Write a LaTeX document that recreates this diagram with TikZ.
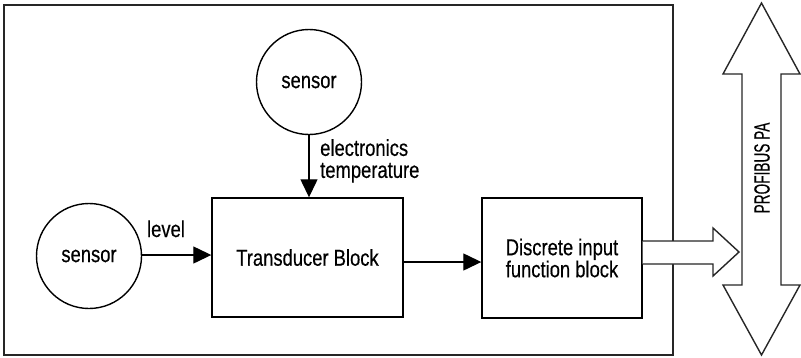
\documentclass[tikz,border=0pt]{standalone}
\usepackage{fontspec}
\setmainfont[FakeStretch=0.8, FakeBold=0.4]{Liberation Sans}
\newfontfamily\busfont[FakeStretch=0.62, FakeBold=0.4]{Liberation Sans}
\usetikzlibrary{arrows.meta}
\begin{document}
\begin{tikzpicture}[x=1pt, y=-1pt, line join=miter,
    every node/.style={font=\fontsize{23}{22}\selectfont},
    sensor/.style={draw, circle, line width=1.4pt, minimum size=105pt, inner sep=0pt},
    block/.style={draw, rectangle, line width=1.4pt, inner sep=0pt, align=center},
    flow/.style={line width=1.3pt, -{Triangle[length=18pt, width=17pt]}},
    outline/.style={draw=black!85, line width=1.4pt, fill=white}]
    \useasboundingbox (0,0) rectangle (801,357);

    % Device frame
    \draw[black!85, line width=1.5pt] (4,5) rectangle (673,355);

    % Sensors and function blocks
    \node[sensor] (tsens) at (309,82) {sensor};
    \node[sensor] (lsens) at (89,256) {sensor};
    \node[block, minimum width=191pt, minimum height=119pt] (trans) at (307.5,257.5) {Transducer Block};
    \node[block, minimum width=160pt, minimum height=120pt] (disc) at (562,258) {Discrete input\\function block};

    % Signal connectors
    \draw[flow] ([yshift=1pt]lsens.east) -- ([yshift=1pt]lsens.east -| trans.west);
    \node[anchor=base] (lvl) at (166,237) {level};
    \draw[flow] (tsens.south) -- (tsens.south |- trans.north);
    \node[anchor=north west, align=left, inner sep=0pt] (etemp) at (320,139) {electronics\\temperature};
    \draw[flow] ([yshift=-4.5pt]trans.east) -- ([yshift=-4.5pt]trans.east -| disc.west);

    % Fieldbus
    \draw[outline] (disc.east |- 0,241) -- (713,241) -- (713,228) -- (739,252)
        -- (713,276) -- (713,264) -- (disc.east |- 0,264);
    \draw[outline] (761.5,3) -- (800,74) -- (781,74) -- (781,285) -- (800,285)
        -- (761.5,355) -- (723,285) -- (742,285) -- (742,74) -- (723,74) -- cycle;
    \node[rotate=90, font=\busfont\fontsize{22}{22}\selectfont] (bus) at (762,168) {PROFIBUS PA};
\end{tikzpicture}
\end{document}
